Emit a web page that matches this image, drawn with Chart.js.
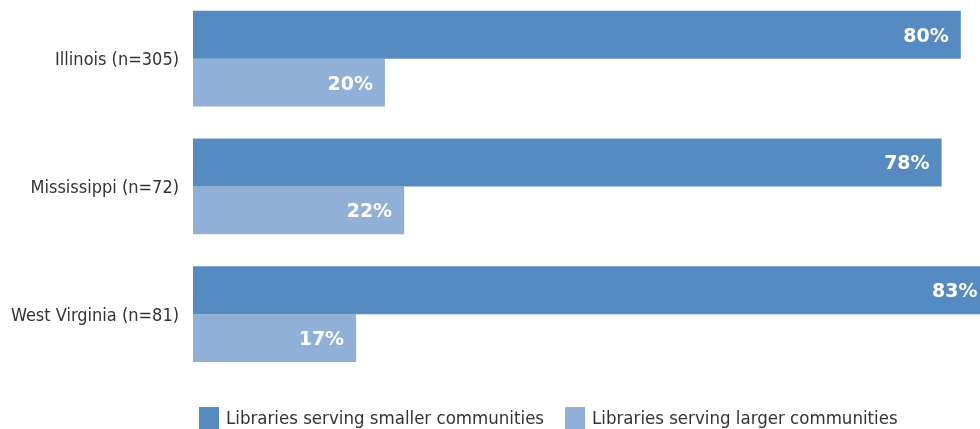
<!DOCTYPE html>
<html>
<head>
<meta charset="utf-8">
<script src="https://cdn.jsdelivr.net/npm/chart.js@4"></script>
<style>
    html, body { margin: 0; padding: 0; background: #fff; overflow: hidden; }
    #frame { width: 980px; height: 429px; position: relative; overflow: hidden; }
    #wrap { width: 980px; height: 459px; position: absolute; left: 0; top: -30px; }
</style>
</head>
<body>
<div id="frame"><div id="wrap"><canvas id="chart"></canvas></div></div>
<script>
// ── Data ───────────────────────────────────────────────────
const STATES = ['Illinois (n=305)', 'Mississippi (n=72)', 'West Virginia (n=81)'];
const SERIES_NAMES = ['Libraries serving smaller communities', 'Libraries serving larger communities'];
const SMALLER = [80, 78, 83];
const LARGER  = [20, 22, 17];

const COLORS = ['#568BC2', '#91B0D8'];
const TEXT_FONT = '"DejaVu Sans Condensed", "DejaVu Sans", sans-serif';
const SHIFT = 30; // canvas sits 30px above the page top

// ── Bar value labels ───────────────────────────────────────
const valueLabels = {
    id: 'valueLabels',
    afterDatasetsDraw(chart) {
        const ctx = chart.ctx;
        ctx.save();
        ctx.font = 'bold 19px "DejaVu Sans", sans-serif';
        ctx.fillStyle = '#fff';
        ctx.textAlign = 'right';
        ctx.textBaseline = 'middle';
        chart.data.datasets.forEach((ds, di) => {
            chart.getDatasetMeta(di).data.forEach((bar, i) => {
                ctx.fillText(ds.data[i] + '%', bar.x - 12, bar.y + 2);
            });
        });
        ctx.restore();
    }
};

// ── Legend drawn below the plot ────────────────────────────
const bottomLegend = {
    id: 'bottomLegend',
    afterDraw(chart) {
        const ctx = chart.ctx;
        ctx.save();
        ctx.font = '18.5px ' + TEXT_FONT;
        ctx.textBaseline = 'middle';
        ctx.textAlign = 'left';
        let x = 199;
        const y = 407 + SHIFT;
        chart.data.datasets.forEach(ds => {
            ctx.fillStyle = ds.backgroundColor;
            ctx.fillRect(x, y, 20, 22);
            ctx.fillStyle = '#333';
            ctx.fillText(ds.label, x + 27, y + 12);
            x += 27 + ctx.measureText(ds.label).width + 21;
        });
        ctx.restore();
    }
};

const ctx = document.getElementById('chart').getContext('2d');
new Chart(ctx, {
    type: 'bar',
    data: {
        labels: STATES,
        datasets: [
            { label: SERIES_NAMES[0], data: SMALLER, backgroundColor: COLORS[0] },
            { label: SERIES_NAMES[1], data: LARGER,  backgroundColor: COLORS[1] },
        ]
    },
    options: {
        indexAxis: 'y',
        responsive: true,
        maintainAspectRatio: false,
        animation: false,
        layout: { padding: { top: 0, bottom: 51, left: 0, right: 0 } },
        datasets: { bar: { categoryPercentage: 0.75, barPercentage: 1.0, borderWidth: 0 } },
        plugins: {
            legend: { display: false },
            tooltip: { enabled: false }
        },
        scales: {
            x: { display: false, min: 0, max: 82 },
            y: {
                grid: { display: false, drawTicks: false },
                border: { display: false },
                ticks: {
                    padding: 14,
                    labelOffset: 2,
                    color: '#333',
                    font: { family: TEXT_FONT, size: 18 }
                },
                afterFit: s => { s.width = 193; }
            }
        }
    },
    plugins: [valueLabels, bottomLegend]
});
</script>
</body>
</html>
